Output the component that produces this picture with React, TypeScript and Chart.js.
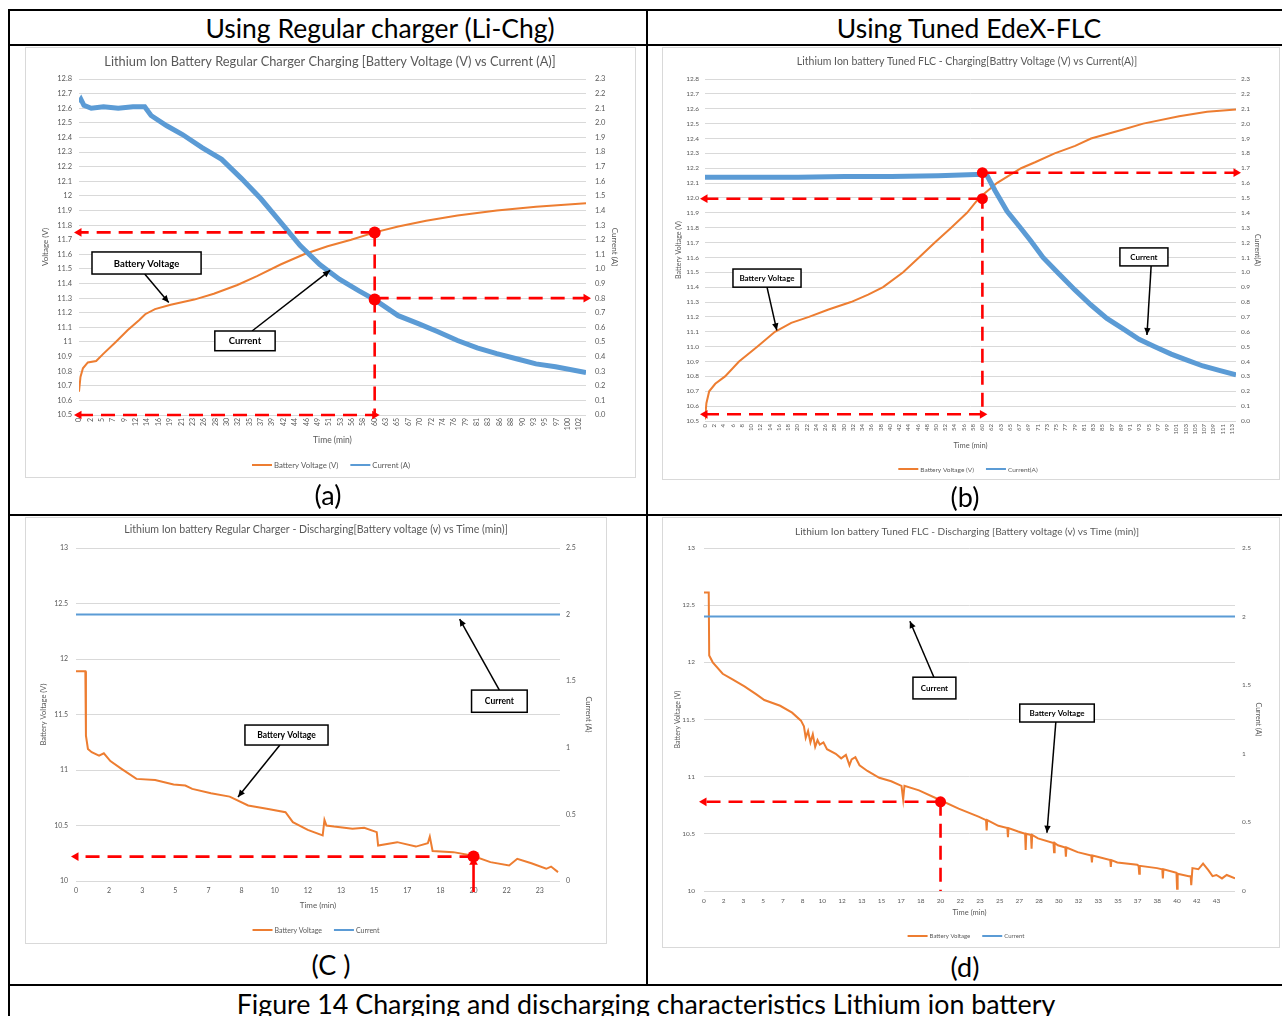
import React, { useEffect, useRef } from 'react';
import { Chart, registerables } from 'chart.js';

Chart.register(...registerables);

const FONT = 'Lato, "Open Sans", sans-serif';
const ORANGE = '#ED7D31';
const BLUE = '#5B9BD5';
const RED = '#FF0000';
const GRID = '#D9D9D9';
const TXT = '#595959';

// ---------------- Chart (a): regular charger, charging ----------------
const aTicks = ['0','2','5','7','9','12','14','16','19','21','23','26','28','30','32','35','37','39','42','44','46','49','51','53','56','58','60','63','65','67','70','72','74','76','79','81','83','86','88','90','93','95','97','100','102'];
const aTickStep = 2.318;
const aXMax = 103.4;
const aVoltT = [0, 0.3, 0.8, 1.8, 3.5, 5.0, 7.5, 9.9, 12.3, 13.5, 15.5, 18.7, 23.5, 27.5, 32.3, 36.3, 41.1, 45.9, 50.7, 55.5, 60.3, 65.1, 70.8, 77.2, 85.2, 93.2, 103.4];
const aVoltV = [10.66, 10.76, 10.82, 10.86, 10.87, 10.92, 11.0, 11.08, 11.15, 11.19, 11.225, 11.255, 11.29, 11.33, 11.39, 11.45, 11.53, 11.6, 11.655, 11.7, 11.75, 11.79, 11.83, 11.865, 11.9, 11.925, 11.95];
const aCurrT = [0, 0.4, 1.0, 2.5, 5, 8, 11, 13.4, 14.7, 17.9, 21.1, 25.1, 29.1, 33.1, 37.1, 41.1, 45.1, 49.1, 53.1, 57.1, 60.3, 65.1, 69.2, 73.2, 77.2, 81.2, 85.2, 89.2, 93.2, 97.2, 103.4];
const aCurrV = [2.14, 2.16, 2.12, 2.10, 2.11, 2.10, 2.11, 2.11, 2.05, 1.98, 1.92, 1.83, 1.75, 1.62, 1.48, 1.32, 1.16, 1.03, 0.93, 0.85, 0.79, 0.68, 0.625, 0.57, 0.51, 0.46, 0.42, 0.385, 0.35, 0.33, 0.29];
const aMarkT = 60.3;
const aMarkVolt = 11.75;
const aMarkCurr = 0.79;

// ---------------- Chart (b): tuned FLC, charging ----------------
const bTicks = ['0','2','4','6','8','10','12','14','16','18','20','22','24','26','28','30','32','34','36','38','40','42','44','46','48','50','52','54','56','58','60','62','63','65','67','69','71','73','75','77','79','81','83','85','87','89','91','93','95','97','99','101','103','105','107','109','111','113'];
const bTickStep = 1.9825;
const bXMax = 113.9;
const bVoltT = [0, 0.3, 0.9, 2.2, 4.3, 7.3, 11.2, 15.0, 18.5, 22.3, 26.5, 31.3, 35.0, 38.2, 42.5, 45.9, 49.3, 52.8, 56.2, 58.8, 62.6, 67.8, 70.8, 75.0, 79.4, 82.8, 89.7, 94.0, 101.7, 107.7, 113.9];
const bVoltV = [10.51, 10.62, 10.70, 10.75, 10.80, 10.90, 11.00, 11.10, 11.16, 11.20, 11.25, 11.30, 11.35, 11.40, 11.50, 11.60, 11.70, 11.80, 11.90, 12.00, 12.10, 12.20, 12.24, 12.30, 12.35, 12.40, 12.46, 12.50, 12.55, 12.58, 12.595];
const bCurrT = [0, 10, 20, 30, 40, 50, 59.6, 60.5, 62.2, 64.8, 67.4, 69.9, 72.5, 75.9, 79.4, 82.8, 86.2, 89.7, 93.1, 96.5, 100.0, 103.4, 106.8, 110.3, 113.9];
const bCurrV = [1.64, 1.64, 1.64, 1.645, 1.645, 1.65, 1.66, 1.65, 1.55, 1.41, 1.31, 1.21, 1.10, 0.99, 0.88, 0.78, 0.69, 0.62, 0.55, 0.50, 0.45, 0.41, 0.37, 0.34, 0.31];
const bMarkT = 59.5;
const bMarkVolt = 11.995;
const bMarkCurr = 1.67;
const bBottomGuide = 10.545;

// ---------------- Chart (c): regular charger, discharging ----------------
const cTicks = ['0','2','3','5','7','8','10','12','13','15','17','18','20','22','23'];
const cTickStep = 1.6667;
const cXMax = 24.35;
const cVoltT = [0, 0.47, 0.5, 0.6, 0.79, 1.16, 1.4, 1.73, 2.29, 3.04, 3.98, 4.91, 5.5, 5.85, 6.79, 7.73, 8.66, 9.6, 10.54, 10.91, 11.66, 12.41, 12.5, 12.6, 12.98, 13.91, 14.5, 15.13, 15.2, 16.16, 17.1, 17.7, 17.8, 17.94, 18.98, 19.91, 20.85, 21.79, 22.2, 22.91, 23.66, 23.9, 24.25];
const cVoltV = [11.89, 11.89, 11.31, 11.19, 11.16, 11.13, 11.15, 11.08, 11.01, 10.92, 10.91, 10.87, 10.86, 10.83, 10.79, 10.76, 10.68, 10.65, 10.62, 10.53, 10.46, 10.41, 10.55, 10.50, 10.49, 10.47, 10.48, 10.44, 10.32, 10.35, 10.31, 10.34, 10.40, 10.27, 10.26, 10.23, 10.17, 10.14, 10.20, 10.16, 10.11, 10.13, 10.08];
const cCurrT = [0, 24.35];
const cCurrV = [2.0, 2.0];
const cMarkT = 20;
const cMarkVolt = 10.22;

// ---------------- Chart (d): tuned FLC, discharging ----------------
const dTicks = ['0','2','3','5','7','8','10','12','13','15','17','18','20','22','23','25','27','28','30','32','33','35','37','38','40','42','43'];
const dTickStep = 1.6667;
const dXMax = 44.9;
const dVoltT = [0, 0.4, 0.44, 0.74, 1.58, 2.41, 3.42, 4.43, 5.1, 6.44, 7.45, 8.2, 8.45, 8.6, 8.8, 9.0, 9.2, 9.4, 9.6, 9.79, 10.1, 10.4, 11.14, 11.6, 12.0, 12.3, 12.48, 12.8, 13.15, 13.82, 14.82, 15.83, 16.7, 16.84, 16.95, 18.18, 19.86, 21.53, 23.21, 23.85, 23.9, 23.95, 24.89, 25.65, 25.7, 25.75, 26.56, 27.15, 27.2, 27.25, 27.65, 27.7, 27.75, 28.24, 29.55, 29.6, 29.65, 29.92, 30.55, 30.6, 30.65, 31.59, 32.75, 32.8, 32.85, 33.27, 34.35, 34.4, 34.45, 34.95, 36.63, 36.75, 36.8, 36.85, 38.3, 38.75, 38.8, 38.85, 39.95, 40.0, 40.05, 40.99, 41.15, 41.2, 41.3, 41.8, 42.2, 42.66, 43.0, 43.33, 43.8, 44.2, 44.9];
const dVoltV = [12.61, 12.61, 12.06, 12.0, 11.9, 11.85, 11.79, 11.72, 11.67, 11.62, 11.56, 11.49, 11.44, 11.34, 11.40, 11.30, 11.37, 11.26, 11.32, 11.28, 11.30, 11.24, 11.20, 11.16, 11.19, 11.10, 11.15, 11.17, 11.10, 11.05, 10.99, 10.96, 10.92, 10.80, 10.92, 10.88, 10.80, 10.72, 10.65, 10.62, 10.53, 10.62, 10.57, 10.55, 10.47, 10.55, 10.52, 10.50, 10.36, 10.50, 10.49, 10.37, 10.49, 10.46, 10.42, 10.34, 10.42, 10.40, 10.38, 10.30, 10.38, 10.34, 10.31, 10.25, 10.31, 10.30, 10.27, 10.21, 10.27, 10.25, 10.23, 10.22, 10.15, 10.22, 10.20, 10.19, 10.11, 10.19, 10.16, 10.02, 10.15, 10.13, 10.13, 10.05, 10.20, 10.19, 10.24, 10.18, 10.13, 10.14, 10.11, 10.14, 10.11];
const dCurrT = [0, 44.9];
const dCurrV = [2.0, 2.0];
const dMarkT = 20;
const dMarkVolt = 10.78;

// ---------------- page texts ----------------
const pageTexts = [
  { text: 'Using Regular charger (Li-Chg)', cx: 380, cy: 29, size: 26.5 },
  { text: 'Using Tuned EdeX-FLC', cx: 969, cy: 29, size: 26.5 },
  { text: '(a)', cx: 328, cy: 495, size: 27 },
  { text: '(b)', cx: 965, cy: 497, size: 27 },
  { text: '(C )', cx: 331, cy: 965, size: 27 },
  { text: '(d)', cx: 965, cy: 967, size: 27 },
  { text: 'Figure 14 Charging and discharging characteristics Lithium ion battery', cx: 646, cy: 1004, size: 26.8 },
];

const pageLines = [
  { left: 8, top: 9, width: 1274, height: 2 },
  { left: 8, top: 44, width: 1274, height: 2 },
  { left: 8, top: 514, width: 1274, height: 2 },
  { left: 8, top: 984, width: 1274, height: 2 },
  { left: 8, top: 9, width: 2, height: 1007 },
  { left: 646, top: 9, width: 2, height: 977 },
];

const general = (v: number) => String(Math.round(v * 100) / 100);
const oneDec = (v: number) => (Math.round(v * 10) / 10).toFixed(1);

function pts(xs: number[], ys: number[]) {
  return xs.map((x, i) => ({ x, y: ys[i] }));
}

const specA = {
  title: 'Lithium Ion Battery Regular Charger Charging [Battery Voltage (V) vs Current (A)]',
  yTitle: 'Voltage (V)', y1Title: 'Current (A)', legV: 'Battery Voltage (V)', legC: 'Current (A)',
  ticks: aTicks, tickStep: aTickStep, xMax: aXMax, rotate: true,
  y: { min: 10.5, max: 12.8, step: 0.1, fmt: general },
  y1: { min: 0, max: 2.3, step: 0.1, fmt: oneDec },
  volt: pts(aVoltT, aVoltV), curr: pts(aCurrT, aCurrV), currWidth: 5,
  guides: [
    { axis: 'y', xs: [aMarkT, 0], ys: [aMarkVolt, aMarkVolt], start: false, end: true, dash: true },
    { axis: 'y', xs: [aMarkT, aMarkT], ys: [aMarkVolt, 10.5], start: false, end: false, dash: true },
    { axis: 'y', xs: [0, aMarkT], ys: [10.5, 10.5], start: true, end: true, dash: true },
    { axis: 'y1', xs: [aMarkT, aXMax], ys: [0.8, 0.8], start: false, end: true, dash: true },
  ],
  dots: [ { axis: 'y', x: aMarkT, y: aMarkVolt, r: 6 }, { axis: 'y1', x: aMarkT, y: aMarkCurr, r: 6 } ],
  notes: [
    { text: 'Battery Voltage', x0: 2.65, x1: 24.9, y0: 11.616, y1: 11.465, fx: 13.4, fy: 11.465, tx: 18.3, ty: 11.27 },
    { text: 'Current', x0: 27.7, x1: 40.0, y0: 11.075, y1: 10.94, fx: 35.3, fy: 11.075, tx: 51.2, ty: 11.49 },
  ],
  box: { left: 25, top: 47, right: 636, bottom: 478, plotL: 79, plotR: 586, plotT: 79, plotB: 415, yTitleL: 45, yTitleR: 615, xTitleY: 440, titleX: 330, titleY: 62, legX: 331, legY: 465 },
  fonts: { title: 12.8, yTick: 7.5, xTick: 7, axisTitle: 8, xTitle: 8.5, legend: 7.8, note: 9.5, yPad: 7, y1Pad: 9, xPad: 3 },
};

const specB = {
  title: 'Lithium Ion battery Tuned FLC - Charging[Battry Voltage (V) vs Current(A)]',
  yTitle: 'Battery Voltage (V)', y1Title: 'Current(A)', legV: 'Battery Voltage (V)', legC: 'Current(A)',
  ticks: bTicks, tickStep: bTickStep, xMax: bXMax, rotate: true,
  y: { min: 10.5, max: 12.8, step: 0.1, fmt: oneDec },
  y1: { min: 0, max: 2.3, step: 0.1, fmt: oneDec },
  volt: pts(bVoltT, bVoltV), curr: pts(bCurrT, bCurrV), currWidth: 5,
  guides: [
    { axis: 'y1', xs: [bMarkT, bXMax], ys: [bMarkCurr, bMarkCurr], start: false, end: true, dash: true },
    { axis: 'y', xs: [bMarkT, 0], ys: [bMarkVolt, bMarkVolt], start: false, end: true, dash: true },
    { axis: 'y1', xs: [bMarkT, bMarkT], ys: [bMarkCurr, bBottomGuide - 10.5], start: false, end: false, dash: true },
    { axis: 'y', xs: [0, bMarkT], ys: [bBottomGuide, bBottomGuide], start: true, end: true, dash: true },
  ],
  dots: [ { axis: 'y1', x: bMarkT, y: bMarkCurr, r: 5.5 }, { axis: 'y', x: bMarkT, y: bMarkVolt, r: 5.5 } ],
  notes: [
    { text: 'Battery Voltage', x0: 6.0, x1: 20.6, y0: 11.522, y1: 11.40, fx: 13.3, fy: 11.40, tx: 15.4, ty: 11.11 },
    { text: 'Current', x0: 89.0, x1: 99.3, y0: 11.664, y1: 11.543, fx: 95.7, fy: 11.543, tx: 94.8, ty: 11.078 },
  ],
  box: { left: 662, top: 47, right: 1280, bottom: 480, plotL: 705, plotR: 1236, plotT: 79, plotB: 421, yTitleL: 679, yTitleR: 1257, xTitleY: 446, titleX: 967, titleY: 62, legX: 968, legY: 469 },
  fonts: { title: 10.5, yTick: 6.5, xTick: 6, axisTitle: 7, xTitle: 7.5, legend: 6.5, note: 8, yPad: 6, y1Pad: 5, xPad: 3 },
};

const specC = {
  title: 'Lithium Ion battery Regular Charger - Discharging[Battery voltage (v) vs Time (min)]',
  yTitle: 'Battery Voltage (V)', y1Title: 'Current (A)', legV: 'Battery Voltage', legC: 'Current',
  ticks: cTicks, tickStep: cTickStep, xMax: cXMax, rotate: false,
  y: { min: 10, max: 13, step: 0.5, fmt: general },
  y1: { min: 0, max: 2.5, step: 0.5, fmt: general },
  volt: pts(cVoltT, cVoltV), curr: pts(cCurrT, cCurrV), currWidth: 2,
  guides: [
    { axis: 'y', xs: [cMarkT, 0], ys: [cMarkVolt, cMarkVolt], start: false, end: true, dash: true },
    { axis: 'y', xs: [cMarkT, cMarkT], ys: [9.9, 10.17], start: false, end: true, dash: false },
  ],
  dots: [ { axis: 'y', x: cMarkT, y: cMarkVolt, r: 6 } ],
  notes: [
    { text: 'Current', x0: 19.9, x1: 22.7, y0: 11.72, y1: 11.52, fx: 21.3, fy: 11.72, tx: 19.3, ty: 12.36 },
    { text: 'Battery Voltage', x0: 8.5, x1: 12.68, y0: 11.405, y1: 11.225, fx: 10.26, fy: 11.225, tx: 8.15, ty: 10.757 },
  ],
  box: { left: 25, top: 517, right: 607, bottom: 944, plotL: 76, plotR: 560, plotT: 548, plotB: 881, yTitleL: 44, yTitleR: 588, xTitleY: 905, titleX: 316, titleY: 530, legX: 316, legY: 930 },
  fonts: { title: 10.6, yTick: 7, xTick: 7, axisTitle: 7.5, xTitle: 8, legend: 7, note: 8.5, yPad: 8, y1Pad: 6, xPad: 6 },
};

const specD = {
  title: 'Lithium Ion battery Tuned FLC - Discharging [Battery voltage (v) vs Time (min)]',
  yTitle: 'Battery Voltage (V)', y1Title: 'Current (A)', legV: 'Battery Voltage', legC: 'Current',
  ticks: dTicks, tickStep: dTickStep, xMax: dXMax, rotate: false,
  y: { min: 10, max: 13, step: 0.5, fmt: general },
  y1: { min: 0, max: 2.5, step: 0.5, fmt: general },
  volt: pts(dVoltT, dVoltV), curr: pts(dCurrT, dCurrV), currWidth: 2,
  guides: [
    { axis: 'y', xs: [dMarkT, 0], ys: [dMarkVolt, dMarkVolt], start: false, end: true, dash: true },
    { axis: 'y', xs: [dMarkT, dMarkT], ys: [dMarkVolt, 10.0], start: false, end: false, dash: true },
  ],
  dots: [ { axis: 'y', x: dMarkT, y: dMarkVolt, r: 5.5 } ],
  notes: [
    { text: 'Current', x0: 17.67, x1: 21.3, y0: 11.87, y1: 11.68, fx: 19.44, fy: 11.87, tx: 17.41, ty: 12.36 },
    { text: 'Battery Voltage', x0: 26.7, x1: 33.0, y0: 11.635, y1: 11.478, fx: 29.75, fy: 11.478, tx: 29.0, ty: 10.51 },
  ],
  box: { left: 662, top: 517, right: 1280, bottom: 948, plotL: 704, plotR: 1235, plotT: 548, plotB: 891, yTitleL: 678, yTitleR: 1258, xTitleY: 913, titleX: 967, titleY: 532, legX: 966, legY: 936 },
  fonts: { title: 10.1, yTick: 6.5, xTick: 6.5, axisTitle: 7, xTitle: 7.5, legend: 6, note: 8, yPad: 9, y1Pad: 7, xPad: 6 },
};

function arrowRot(g: any, atStart: boolean) {
  const i = atStart ? 0 : 1;
  const j = atStart ? 1 : 0;
  if (g.xs[0] === g.xs[1]) {
    return g.ys[i] > g.ys[j] ? 0 : 180;
  }
  return g.xs[i] < g.xs[j] ? -90 : 90;
}

function makeDeco(s: any) {
  const b = s.box;
  return {
    id: 'deco',
    afterDatasetsDraw(chart: any) {
      const ctx = chart.ctx;
      const xs = chart.scales.x;
      const ys = chart.scales.y;
      ctx.save();
      for (const n of s.notes) {
        const fx = xs.getPixelForValue(n.fx), fy = ys.getPixelForValue(n.fy);
        const tx = xs.getPixelForValue(n.tx), ty = ys.getPixelForValue(n.ty);
        ctx.strokeStyle = '#000';
        ctx.fillStyle = '#000';
        ctx.lineWidth = 1.5;
        ctx.beginPath();
        ctx.moveTo(fx, fy);
        ctx.lineTo(tx, ty);
        ctx.stroke();
        const a = Math.atan2(ty - fy, tx - fx);
        const hl = 7, hw = 3.2;
        const c = Math.cos(a), sn = Math.sin(a);
        ctx.beginPath();
        ctx.moveTo(tx, ty);
        ctx.lineTo(tx - hl * c + hw * sn, ty - hl * sn - hw * c);
        ctx.lineTo(tx - hl * c - hw * sn, ty - hl * sn + hw * c);
        ctx.closePath();
        ctx.fill();
        const x0 = xs.getPixelForValue(n.x0), x1 = xs.getPixelForValue(n.x1);
        const y0 = ys.getPixelForValue(n.y0), y1 = ys.getPixelForValue(n.y1);
        ctx.fillStyle = '#fff';
        ctx.fillRect(x0, y0, x1 - x0, y1 - y0);
        ctx.lineWidth = 1.5;
        ctx.strokeRect(x0, y0, x1 - x0, y1 - y0);
        ctx.fillStyle = '#000';
        ctx.font = `bold ${s.fonts.note}px ${FONT}`;
        ctx.textAlign = 'center';
        ctx.textBaseline = 'middle';
        ctx.fillText(n.text, (x0 + x1) / 2, (y0 + y1) / 2 + 0.5);
      }
      ctx.restore();
    },
    afterDraw(chart: any) {
      const ctx = chart.ctx;
      ctx.save();
      ctx.fillStyle = TXT;
      ctx.font = `${s.fonts.title}px ${FONT}`;
      ctx.textAlign = 'center';
      ctx.textBaseline = 'middle';
      ctx.fillText(s.title, b.titleX - b.left, b.titleY - b.top);
      // legend
      ctx.font = `${s.fonts.legend}px ${FONT}`;
      const items = [ { c: ORANGE, t: s.legV }, { c: BLUE, t: s.legC } ];
      const lineLen = 20, gapText = 2, gapItem = 12;
      const widths = items.map((it) => lineLen + gapText + ctx.measureText(it.t).width);
      const total = widths[0] + widths[1] + gapItem;
      let x = b.legX - b.left - total / 2;
      const y = b.legY - b.top;
      items.forEach((it, i) => {
        ctx.strokeStyle = it.c;
        ctx.lineWidth = 2;
        ctx.beginPath();
        ctx.moveTo(x, y);
        ctx.lineTo(x + lineLen, y);
        ctx.stroke();
        ctx.fillStyle = TXT;
        ctx.textAlign = 'left';
        ctx.fillText(it.t, x + lineLen + gapText, y + 0.5);
        x += widths[i] + gapItem;
      });
      ctx.restore();
    },
  };
}

function buildConfig(s: any) {
  const b = s.box;
  const f = s.fonts;
  const W = b.right - b.left;
  const H = b.bottom - b.top;
  const plotL = b.plotL - b.left, plotR = b.plotR - b.left, plotT = b.plotT - b.top, plotB = b.plotB - b.top;
  const atOff = 4 + f.axisTitle * 0.6;
  const padLeft = (b.yTitleL - b.left) - atOff;
  const yLeftW = plotL - padLeft;
  const padRight = W - ((b.yTitleR - b.left) + atOff);
  const yRightW = (W - padRight) - plotR;
  const xBottom = (b.xTitleY - b.top) + 4 + f.xTitle * 0.6;
  const xH = xBottom - plotB;
  const padBottom = H - xBottom;

  const datasets: any[] = [];
  s.dots.forEach((d: any) => {
    datasets.push({
      type: 'line', data: [{ x: d.x, y: d.y }], yAxisID: d.axis, showLine: false,
      pointRadius: d.r, pointStyle: 'circle', pointBackgroundColor: RED, pointBorderColor: RED,
      pointBorderWidth: 0, order: 0, clip: false,
    });
  });
  s.guides.forEach((g: any) => {
    datasets.push({
      type: 'line', data: pts(g.xs, g.ys), yAxisID: g.axis,
      borderColor: RED, borderWidth: 2.6, borderDash: g.dash ? [14, 8] : [],
      pointRadius: [g.start ? 5 : 0, g.end ? 5 : 0], pointStyle: 'triangle',
      pointRotation: [arrowRot(g, true), arrowRot(g, false)],
      pointBackgroundColor: RED, pointBorderColor: RED, pointBorderWidth: 0,
      order: 1, clip: false, tension: 0,
    });
  });
  datasets.push({
    type: 'line', label: s.legC, data: s.curr, yAxisID: 'y1', borderColor: BLUE,
    borderWidth: s.currWidth, pointRadius: 0, order: 2, tension: 0,
  });
  datasets.push({
    type: 'line', label: s.legV, data: s.volt, yAxisID: 'y', borderColor: ORANGE,
    borderWidth: 2, pointRadius: 0, order: 3, tension: 0,
  });

  const rot = s.rotate ? 90 : 0;
  return {
    type: 'line',
    data: { datasets },
    options: {
      responsive: false,
      maintainAspectRatio: false,
      animation: false,
      devicePixelRatio: 1,
      events: [],
      layout: { padding: { left: padLeft, right: padRight, top: plotT, bottom: padBottom } },
      plugins: { legend: { display: false }, title: { display: false }, tooltip: { enabled: false } },
      scales: {
        x: {
          type: 'linear', min: 0, max: s.xMax,
          afterBuildTicks: (sc: any) => { sc.ticks = s.ticks.map((_: string, i: number) => ({ value: i * s.tickStep })); },
          afterFit: (sc: any) => { sc.height = xH; },
          ticks: {
            autoSkip: false, maxRotation: rot, minRotation: rot, padding: f.xPad,
            color: TXT, font: { size: f.xTick, family: FONT },
            callback: (_v: any, i: number) => s.ticks[i] ?? '',
          },
          grid: { display: false, drawTicks: false },
          border: { display: false },
          title: { display: true, text: 'Time (min)', color: TXT, font: { size: f.xTitle, family: FONT } },
        },
        y: {
          type: 'linear', position: 'left', min: s.y.min, max: s.y.max,
          afterFit: (sc: any) => { sc.width = yLeftW; },
          ticks: { stepSize: s.y.step, padding: f.yPad, color: TXT, font: { size: f.yTick, family: FONT }, callback: (v: any) => s.y.fmt(Number(v)) },
          grid: { color: GRID, lineWidth: 1, drawTicks: false },
          border: { display: false },
          title: { display: true, text: s.yTitle, color: TXT, font: { size: f.axisTitle, family: FONT } },
        },
        y1: {
          type: 'linear', position: 'right', min: s.y1.min, max: s.y1.max,
          afterFit: (sc: any) => { sc.width = yRightW; },
          ticks: { stepSize: s.y1.step, padding: f.y1Pad, color: TXT, font: { size: f.yTick, family: FONT }, callback: (v: any) => s.y1.fmt(Number(v)) },
          grid: { display: false, drawTicks: false },
          border: { display: false },
          title: { display: true, text: s.y1Title, color: TXT, font: { size: f.axisTitle, family: FONT } },
        },
      },
    },
    plugins: [makeDeco(s)],
  };
}

function ChartPanel({ spec }: { spec: any }) {
  const ref = useRef<HTMLCanvasElement>(null);
  const b = spec.box;
  const W = b.right - b.left;
  const H = b.bottom - b.top;
  useEffect(() => {
    if (!ref.current) return;
    const chart = new Chart(ref.current, buildConfig(spec) as any);
    return () => chart.destroy();
  }, [spec]);
  return (
    <div style={{ position: 'absolute', left: b.left, top: b.top, width: W, height: H, boxSizing: 'border-box', border: '1px solid #D9D9D9', background: '#fff' }}>
      <canvas ref={ref} width={W} height={H} style={{ position: 'absolute', left: -1, top: -1, width: W, height: H }} />
    </div>
  );
}

export default function App() {
  return (
    <div style={{ position: 'absolute', left: 0, top: 0, width: 1282, height: 1016, overflow: 'hidden', background: '#fff', fontFamily: FONT }}>
      {pageLines.map((l, i) => (
        <div key={'l' + i} style={{ position: 'absolute', left: l.left, top: l.top, width: l.width, height: l.height, background: '#000' }} />
      ))}
      {[specA, specB, specC, specD].map((s, i) => <ChartPanel key={i} spec={s} />)}
      {pageTexts.map((t, i) => (
        <div key={'t' + i} style={{ position: 'absolute', left: t.cx - 500, width: 1000, top: t.cy - t.size * 0.6, height: t.size * 1.2, lineHeight: `${t.size * 1.2}px`, fontSize: t.size, textAlign: 'center', color: '#000', whiteSpace: 'nowrap' }}>{t.text}</div>
      ))}
    </div>
  );
}
